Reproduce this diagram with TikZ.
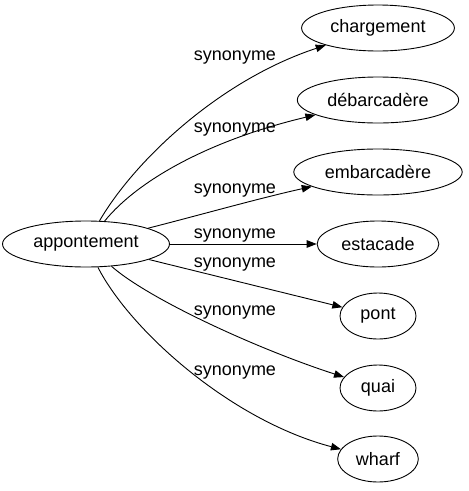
\documentclass[tikz,border=0pt]{standalone}
\usepackage{fontspec}
\setmainfont{Liberation Sans}
\usetikzlibrary{shapes.geometric,arrows.meta}
\begin{document}
\begin{tikzpicture}[x=1pt, y=-1pt, font=\fontsize{18}{21}\selectfont,
    mot/.style={ellipse, draw, line width=0.9pt, inner xsep=6.5pt, inner ysep=2pt,
                minimum height=46pt, minimum width=76pt},
    lien/.style={line width=0.9pt, -{Triangle[length=10pt, width=7.5pt]}},
    etiq/.style={anchor=base, inner sep=0pt}]
  \useasboundingbox (0,0) rectangle (469,491);
  % --- Mot source ---
  \node[mot] (app) at (86,244) {appontement};
  % --- Synonymes ---
  \foreach \n/\txt/\y in {charg/chargement/28, debarc/débarcadère/100,
      embarc/embarcadère/172, estac/estacade/244, pont/pont/316,
      quai/quai/388, wharf/wharf/459} {
    \node[mot] (\n) at (378,\y) {\txt};
  }
  % --- Liens ---
  \draw[lien] (app) .. controls (135,160) and (220,80) .. (charg);
  \draw[lien] (app) .. controls (138,180) and (210,140) .. (debarc);
  \draw[lien] (app) .. controls (200,215) and (260,198) .. (embarc);
  \draw[lien] (app) -- (estac);
  \draw[lien] (app) -- (pont);
  \draw[lien] (app) .. controls (150,300) and (260,350) .. (quai);
  \draw[lien] (app) .. controls (130,330) and (230,420) .. (wharf);
  % --- Etiquettes ---
  \foreach \i/\y in {1/60, 2/132, 3/193, 4/238, 5/267, 6/315, 7/375} {
    \node[etiq] (syn\i) at (235,\y) {synonyme};
  }
\end{tikzpicture}
\end{document}
